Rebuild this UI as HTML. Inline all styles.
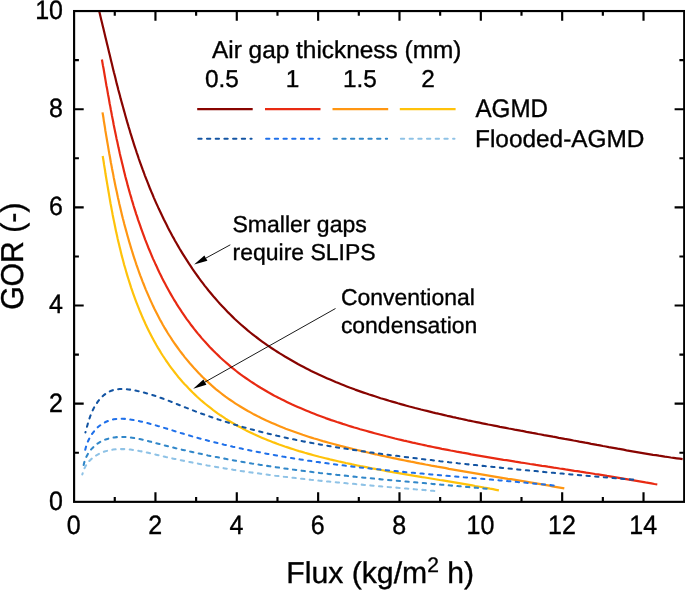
<!DOCTYPE html>
<html><head><meta charset="utf-8"><title>GOR vs Flux</title>
<style>
html,body{margin:0;padding:0;background:#fff;}
body{width:685px;height:590px;overflow:hidden;}
svg{display:block;will-change:transform;}
text{font-family:"Liberation Sans",sans-serif;fill:#000;text-rendering:geometricPrecision;stroke:#000;stroke-width:0.35px;}
.tk{font-size:25px;}
.ax{font-size:30.2px;}
.lg{font-size:24.4px;}
.an{font-size:23px;}
.c{fill:none;stroke-width:2.2;stroke-linecap:butt;stroke-linejoin:round;}
.d{fill:none;stroke-width:2.05;stroke-dasharray:3.3 5.4;stroke-linecap:round;}
</style></head><body>
<svg width="685" height="590" viewBox="0 0 685 590">
<rect x="0" y="0" width="685" height="590" fill="#fff"/>

<clipPath id="cp"><rect x="74.1" y="11.05" width="610.1" height="490.8"/></clipPath>
<g clip-path="url(#cp)">
<path class="c" stroke="#ffc20a" d="M102.7,156.0 L103.2,159.0 L103.7,162.0 L104.1,164.9 L104.6,167.9 L105.1,170.8 L105.5,173.8 L106.0,176.7 L106.5,179.7 L107.0,182.6 L107.5,185.6 L108.0,188.5 L108.5,191.5 L109.0,194.4 L109.5,197.4 L110.0,200.3 L110.5,203.3 L111.1,206.2 L111.6,209.1 L112.2,212.1 L112.7,215.0 L113.3,218.0 L113.9,220.9 L114.5,223.8 L115.1,226.8 L115.7,229.7 L116.3,232.6 L117.0,235.5 L117.6,238.4 L118.3,241.4 L119.0,244.3 L119.7,247.2 L120.4,250.1 L121.1,253.0 L121.8,255.9 L122.6,258.8 L123.4,261.7 L124.1,264.6 L125.0,267.5 L125.8,270.3 L126.6,273.2 L127.5,276.1 L128.4,279.0 L129.3,281.8 L130.2,284.7 L131.1,287.6 L132.1,290.4 L133.1,293.3 L134.1,296.1 L135.1,298.9 L136.2,301.8 L137.3,304.6 L138.4,307.4 L139.5,310.2 L140.7,313.0 L141.8,315.7 L143.0,318.5 L144.3,321.2 L145.5,324.0 L146.8,326.7 L148.1,329.4 L149.4,332.1 L150.8,334.8 L152.2,337.4 L153.6,340.1 L155.1,342.7 L156.5,345.3 L158.0,347.9 L159.6,350.4 L161.1,353.0 L162.7,355.5 L164.4,358.0 L166.0,360.5 L167.7,362.9 L169.4,365.4 L171.2,367.8 L173.0,370.2 L174.8,372.5 L176.7,374.9 L178.5,377.2 L180.5,379.5 L182.4,381.7 L184.4,383.9 L186.5,386.1 L188.5,388.3 L190.6,390.4 L192.7,392.5 L194.9,394.6 L197.1,396.7 L199.3,398.7 L201.5,400.7 L203.8,402.6 L206.1,404.5 L208.5,406.4 L210.8,408.2 L213.2,410.1 L215.6,411.8 L218.0,413.6 L220.5,415.3 L223.0,416.9 L225.5,418.6 L228.0,420.2 L230.5,421.7 L233.1,423.2 L235.6,424.7 L238.2,426.2 L240.9,427.6 L243.5,429.0 L246.1,430.4 L248.8,431.7 L251.5,433.0 L254.2,434.3 L256.9,435.5 L259.6,436.7 L262.4,437.9 L265.1,439.1 L267.9,440.2 L270.7,441.3 L273.5,442.4 L276.3,443.4 L279.1,444.5 L282.0,445.5 L284.8,446.5 L287.6,447.4 L290.5,448.4 L293.4,449.3 L296.2,450.2 L299.1,451.1 L302.0,451.9 L304.9,452.8 L307.8,453.6 L310.7,454.4 L313.6,455.2 L316.5,456.0 L319.4,456.8 L322.4,457.5 L325.3,458.2 L328.2,458.9 L331.1,459.7 L334.0,460.3 L337.0,461.0 L339.9,461.7 L342.8,462.3 L345.8,463.0 L348.7,463.6 L351.6,464.2 L354.5,464.9 L357.5,465.5 L360.4,466.1 L363.3,466.6 L366.3,467.2 L369.2,467.8 L372.1,468.4 L375.1,468.9 L378.0,469.5 L380.9,470.0 L383.9,470.5 L386.8,471.1 L389.7,471.6 L392.7,472.1 L395.6,472.6 L398.6,473.1 L401.5,473.6 L404.4,474.1 L407.4,474.6 L410.3,475.1 L413.3,475.6 L416.2,476.1 L419.2,476.6 L422.1,477.1 L425.0,477.5 L428.0,478.0 L430.9,478.5 L433.9,479.0 L436.8,479.5 L439.8,480.0 L442.7,480.4 L445.7,480.9 L448.6,481.4 L451.6,481.9 L454.5,482.4 L457.5,482.9 L460.5,483.4 L463.4,483.9 L466.4,484.4 L469.3,484.9 L472.3,485.4 L475.2,486.0 L478.2,486.5 L481.2,487.0 L484.1,487.6 L487.1,488.1 L490.0,488.7 L493.0,489.2 L496.0,489.8 L498.9,490.4"/>
<path class="c" stroke="#ff9612" d="M102.5,112.4 L103.0,115.3 L103.5,118.3 L103.9,121.3 L104.4,124.2 L104.9,127.2 L105.3,130.2 L105.8,133.1 L106.3,136.1 L106.8,139.0 L107.3,142.0 L107.8,144.9 L108.3,147.9 L108.8,150.9 L109.3,153.8 L109.9,156.8 L110.4,159.7 L110.9,162.7 L111.5,165.6 L112.0,168.5 L112.6,171.5 L113.2,174.4 L113.7,177.4 L114.3,180.3 L114.9,183.2 L115.5,186.2 L116.1,189.1 L116.8,192.0 L117.4,195.0 L118.0,197.9 L118.7,200.8 L119.3,203.7 L120.0,206.6 L120.7,209.6 L121.4,212.5 L122.1,215.4 L122.8,218.3 L123.6,221.2 L124.3,224.1 L125.1,227.0 L125.9,229.9 L126.7,232.8 L127.5,235.7 L128.3,238.5 L129.1,241.4 L130.0,244.3 L130.8,247.2 L131.7,250.0 L132.6,252.9 L133.5,255.8 L134.4,258.6 L135.4,261.5 L136.3,264.3 L137.3,267.1 L138.3,270.0 L139.3,272.8 L140.3,275.6 L141.4,278.4 L142.5,281.3 L143.6,284.0 L144.7,286.8 L145.8,289.6 L147.0,292.4 L148.2,295.1 L149.4,297.9 L150.6,300.6 L151.9,303.4 L153.1,306.1 L154.4,308.8 L155.8,311.5 L157.1,314.1 L158.5,316.8 L159.9,319.5 L161.4,322.1 L162.8,324.7 L164.3,327.3 L165.9,329.9 L167.4,332.5 L169.0,335.0 L170.7,337.5 L172.3,340.1 L174.0,342.6 L175.7,345.0 L177.5,347.5 L179.2,349.9 L181.0,352.3 L182.9,354.7 L184.7,357.1 L186.6,359.4 L188.6,361.8 L190.5,364.1 L192.5,366.3 L194.5,368.6 L196.6,370.8 L198.6,372.9 L200.7,375.1 L202.8,377.2 L205.0,379.3 L207.2,381.4 L209.4,383.4 L211.6,385.4 L213.8,387.3 L216.1,389.3 L218.4,391.1 L220.8,393.0 L223.1,394.8 L225.5,396.6 L227.9,398.3 L230.3,400.0 L232.8,401.7 L235.2,403.3 L237.7,404.9 L240.3,406.5 L242.8,408.0 L245.3,409.5 L247.9,411.0 L250.5,412.4 L253.1,413.9 L255.8,415.2 L258.4,416.6 L261.1,417.9 L263.7,419.2 L266.4,420.5 L269.2,421.7 L271.9,422.9 L274.6,424.1 L277.4,425.3 L280.2,426.4 L282.9,427.6 L285.7,428.7 L288.5,429.7 L291.4,430.8 L294.2,431.8 L297.0,432.8 L299.9,433.8 L302.7,434.8 L305.6,435.7 L308.5,436.7 L311.3,437.6 L314.2,438.5 L317.1,439.3 L320.0,440.2 L322.9,441.1 L325.8,441.9 L328.8,442.7 L331.7,443.5 L334.6,444.3 L337.5,445.1 L340.5,445.9 L343.4,446.6 L346.3,447.4 L349.3,448.1 L352.2,448.8 L355.1,449.5 L358.1,450.2 L361.0,450.9 L363.9,451.6 L366.8,452.3 L369.8,453.0 L372.7,453.7 L375.6,454.3 L378.6,455.0 L381.5,455.6 L384.4,456.2 L387.4,456.9 L390.3,457.5 L393.2,458.1 L396.2,458.7 L399.1,459.3 L402.0,459.9 L404.9,460.5 L407.9,461.1 L410.8,461.7 L413.7,462.2 L416.7,462.8 L419.6,463.4 L422.5,463.9 L425.5,464.5 L428.4,465.0 L431.3,465.6 L434.3,466.1 L437.2,466.7 L440.1,467.2 L443.1,467.7 L446.0,468.2 L448.9,468.8 L451.9,469.3 L454.8,469.8 L457.8,470.3 L460.7,470.8 L463.6,471.3 L466.6,471.8 L469.5,472.3 L472.5,472.8 L475.4,473.3 L478.4,473.8 L481.3,474.3 L484.3,474.8 L487.2,475.3 L490.1,475.8 L493.1,476.3 L496.0,476.8 L499.0,477.3 L502.0,477.8 L504.9,478.3 L507.9,478.8 L510.8,479.2 L513.8,479.7 L516.7,480.2 L519.7,480.7 L522.7,481.2 L525.6,481.7 L528.6,482.2 L531.5,482.7 L534.5,483.2 L537.5,483.7 L540.5,484.2 L543.4,484.7 L546.4,485.2 L549.4,485.7 L552.4,486.3 L555.3,486.8 L558.3,487.3 L561.3,487.8 L564.3,488.4"/>
<path class="c" stroke="#e82a12" d="M101.9,59.5 L102.4,62.4 L102.9,65.4 L103.5,68.3 L104.0,71.3 L104.5,74.2 L105.0,77.2 L105.5,80.1 L106.0,83.1 L106.5,86.0 L107.1,88.9 L107.6,91.9 L108.1,94.8 L108.7,97.8 L109.2,100.7 L109.7,103.7 L110.3,106.6 L110.8,109.5 L111.4,112.5 L111.9,115.4 L112.5,118.4 L113.1,121.3 L113.6,124.2 L114.2,127.2 L114.8,130.1 L115.4,133.0 L116.0,135.9 L116.6,138.9 L117.3,141.8 L117.9,144.7 L118.5,147.6 L119.2,150.6 L119.8,153.5 L120.5,156.4 L121.2,159.3 L121.9,162.2 L122.6,165.1 L123.3,168.0 L124.0,170.9 L124.7,173.8 L125.4,176.7 L126.2,179.6 L127.0,182.5 L127.7,185.4 L128.5,188.3 L129.3,191.1 L130.1,194.0 L131.0,196.9 L131.8,199.8 L132.7,202.6 L133.5,205.5 L134.4,208.4 L135.3,211.2 L136.2,214.1 L137.2,216.9 L138.1,219.8 L139.1,222.6 L140.1,225.4 L141.1,228.3 L142.1,231.1 L143.1,233.9 L144.2,236.8 L145.2,239.6 L146.3,242.4 L147.4,245.2 L148.5,248.0 L149.7,250.8 L150.9,253.6 L152.0,256.3 L153.2,259.1 L154.5,261.9 L155.7,264.6 L157.0,267.3 L158.2,270.1 L159.5,272.8 L160.9,275.5 L162.2,278.2 L163.6,280.9 L165.0,283.5 L166.4,286.2 L167.8,288.8 L169.3,291.5 L170.8,294.1 L172.3,296.7 L173.8,299.3 L175.4,301.8 L176.9,304.4 L178.5,306.9 L180.2,309.4 L181.8,311.9 L183.5,314.4 L185.2,316.9 L186.9,319.3 L188.7,321.7 L190.5,324.2 L192.3,326.5 L194.1,328.9 L196.0,331.2 L197.9,333.6 L199.8,335.8 L201.7,338.1 L203.7,340.4 L205.7,342.6 L207.7,344.8 L209.7,347.0 L211.8,349.1 L213.9,351.2 L216.0,353.3 L218.2,355.4 L220.3,357.5 L222.5,359.5 L224.8,361.5 L227.0,363.4 L229.3,365.4 L231.5,367.3 L233.9,369.1 L236.2,371.0 L238.5,372.8 L240.9,374.6 L243.3,376.3 L245.7,378.0 L248.1,379.7 L250.6,381.4 L253.1,383.0 L255.6,384.6 L258.1,386.2 L260.6,387.8 L263.2,389.3 L265.7,390.8 L268.3,392.3 L270.9,393.7 L273.5,395.2 L276.1,396.6 L278.8,397.9 L281.4,399.3 L284.1,400.6 L286.8,401.9 L289.5,403.2 L292.2,404.5 L294.9,405.7 L297.7,406.9 L300.4,408.1 L303.2,409.3 L306.0,410.5 L308.7,411.6 L311.5,412.7 L314.3,413.8 L317.1,414.9 L320.0,416.0 L322.8,417.0 L325.6,418.1 L328.5,419.1 L331.3,420.1 L334.2,421.0 L337.0,422.0 L339.9,422.9 L342.8,423.9 L345.7,424.8 L348.5,425.7 L351.4,426.6 L354.3,427.5 L357.2,428.3 L360.1,429.2 L363.0,430.0 L365.9,430.8 L368.8,431.6 L371.7,432.4 L374.6,433.2 L377.6,434.0 L380.5,434.8 L383.4,435.5 L386.3,436.3 L389.2,437.0 L392.1,437.7 L395.0,438.5 L397.9,439.2 L400.9,439.9 L403.8,440.6 L406.7,441.2 L409.6,441.9 L412.5,442.6 L415.5,443.2 L418.4,443.9 L421.3,444.5 L424.2,445.1 L427.2,445.8 L430.1,446.4 L433.0,447.0 L435.9,447.6 L438.9,448.2 L441.8,448.8 L444.7,449.3 L447.7,449.9 L450.6,450.5 L453.5,451.0 L456.5,451.6 L459.4,452.1 L462.3,452.7 L465.3,453.2 L468.2,453.7 L471.2,454.3 L474.1,454.8 L477.0,455.3 L480.0,455.8 L482.9,456.3 L485.9,456.8 L488.8,457.3 L491.7,457.8 L494.7,458.3 L497.6,458.8 L500.6,459.3 L503.5,459.8 L506.5,460.2 L509.4,460.7 L512.4,461.2 L515.3,461.7 L518.3,462.1 L521.2,462.6 L524.2,463.0 L527.1,463.5 L530.1,464.0 L533.0,464.4 L536.0,464.9 L538.9,465.3 L541.9,465.8 L544.8,466.2 L547.8,466.7 L550.7,467.1 L553.7,467.6 L556.7,468.0 L559.6,468.5 L562.6,468.9 L565.5,469.4 L568.5,469.8 L571.4,470.3 L574.4,470.8 L577.4,471.2 L580.3,471.7 L583.3,472.1 L586.2,472.6 L589.2,473.0 L592.2,473.5 L595.1,474.0 L598.1,474.4 L601.0,474.9 L604.0,475.4 L607.0,475.9 L609.9,476.3 L612.9,476.8 L615.8,477.3 L618.8,477.8 L621.8,478.3 L624.7,478.8 L627.7,479.3 L630.7,479.8 L633.6,480.3 L636.6,480.8 L639.5,481.3 L642.5,481.8 L645.5,482.4 L648.4,482.9 L651.4,483.4 L654.4,484.0 L657.3,484.5"/>
<path class="c" stroke="#880400" d="M99.2,11.1 L99.9,14.0 L100.6,16.9 L101.3,19.9 L102.0,22.8 L102.7,25.7 L103.4,28.6 L104.1,31.5 L104.8,34.4 L105.5,37.4 L106.2,40.3 L106.9,43.2 L107.6,46.1 L108.3,49.0 L109.0,51.9 L109.7,54.8 L110.4,57.7 L111.1,60.7 L111.8,63.6 L112.5,66.5 L113.2,69.4 L113.9,72.3 L114.7,75.2 L115.4,78.1 L116.1,81.0 L116.8,83.9 L117.6,86.8 L118.3,89.7 L119.1,92.6 L119.9,95.5 L120.6,98.4 L121.4,101.3 L122.2,104.1 L123.0,107.0 L123.8,109.9 L124.6,112.8 L125.4,115.7 L126.2,118.5 L127.0,121.4 L127.9,124.3 L128.7,127.1 L129.6,130.0 L130.4,132.9 L131.3,135.7 L132.2,138.6 L133.1,141.4 L134.0,144.3 L134.9,147.1 L135.9,150.0 L136.8,152.8 L137.8,155.6 L138.7,158.5 L139.7,161.3 L140.7,164.1 L141.7,166.9 L142.7,169.7 L143.8,172.5 L144.8,175.3 L145.9,178.1 L147.0,180.9 L148.1,183.7 L149.2,186.5 L150.3,189.3 L151.5,192.1 L152.7,194.8 L153.8,197.6 L155.0,200.4 L156.2,203.1 L157.5,205.9 L158.7,208.6 L160.0,211.3 L161.3,214.0 L162.6,216.7 L163.9,219.5 L165.2,222.1 L166.6,224.8 L167.9,227.5 L169.3,230.2 L170.7,232.8 L172.1,235.5 L173.6,238.1 L175.0,240.7 L176.5,243.3 L178.0,245.9 L179.5,248.5 L181.1,251.1 L182.6,253.6 L184.2,256.2 L185.8,258.7 L187.4,261.2 L189.0,263.7 L190.7,266.2 L192.3,268.7 L194.0,271.1 L195.8,273.6 L197.5,276.0 L199.2,278.4 L201.0,280.8 L202.8,283.2 L204.6,285.6 L206.5,287.9 L208.3,290.2 L210.2,292.5 L212.1,294.8 L214.0,297.1 L216.0,299.3 L218.0,301.6 L219.9,303.8 L222.0,306.0 L224.0,308.1 L226.1,310.3 L228.1,312.4 L230.3,314.5 L232.4,316.6 L234.5,318.7 L236.7,320.7 L238.9,322.7 L241.1,324.7 L243.4,326.7 L245.7,328.6 L248.0,330.6 L250.3,332.5 L252.6,334.3 L255.0,336.2 L257.4,338.0 L259.8,339.8 L262.2,341.6 L264.7,343.3 L267.2,345.1 L269.7,346.8 L272.2,348.5 L274.7,350.1 L277.2,351.7 L279.8,353.4 L282.3,354.9 L284.9,356.5 L287.5,358.0 L290.1,359.5 L292.7,361.0 L295.3,362.5 L297.9,364.0 L300.6,365.4 L303.2,366.8 L305.9,368.2 L308.5,369.5 L311.2,370.9 L313.9,372.2 L316.6,373.5 L319.2,374.7 L322.0,376.0 L324.7,377.2 L327.4,378.4 L330.1,379.6 L332.9,380.8 L335.6,382.0 L338.4,383.1 L341.2,384.2 L343.9,385.3 L346.7,386.4 L349.5,387.5 L352.3,388.5 L355.1,389.6 L357.9,390.6 L360.7,391.6 L363.6,392.6 L366.4,393.5 L369.2,394.5 L372.1,395.4 L374.9,396.3 L377.8,397.3 L380.6,398.2 L383.5,399.0 L386.4,399.9 L389.2,400.8 L392.1,401.6 L395.0,402.4 L397.9,403.3 L400.7,404.1 L403.6,404.9 L406.5,405.7 L409.4,406.5 L412.3,407.2 L415.2,408.0 L418.1,408.7 L421.0,409.5 L423.9,410.2 L426.8,410.9 L429.7,411.6 L432.6,412.4 L435.5,413.1 L438.4,413.7 L441.4,414.4 L444.3,415.1 L447.2,415.8 L450.1,416.4 L453.0,417.1 L455.9,417.7 L458.9,418.4 L461.8,419.0 L464.7,419.6 L467.6,420.3 L470.6,420.9 L473.5,421.5 L476.4,422.1 L479.4,422.7 L482.3,423.3 L485.2,423.9 L488.2,424.5 L491.1,425.0 L494.0,425.6 L497.0,426.2 L499.9,426.8 L502.8,427.3 L505.8,427.9 L508.7,428.5 L511.7,429.0 L514.6,429.6 L517.5,430.1 L520.5,430.7 L523.4,431.2 L526.4,431.8 L529.3,432.3 L532.3,432.9 L535.2,433.4 L538.1,434.0 L541.1,434.5 L544.0,435.1 L547.0,435.6 L549.9,436.1 L552.9,436.7 L555.8,437.2 L558.7,437.8 L561.7,438.3 L564.6,438.9 L567.6,439.4 L570.5,439.9 L573.5,440.5 L576.4,441.0 L579.3,441.6 L582.3,442.1 L585.2,442.7 L588.2,443.2 L591.1,443.8 L594.1,444.3 L597.0,444.9 L599.9,445.4 L602.9,446.0 L605.8,446.5 L608.8,447.1 L611.7,447.6 L614.7,448.1 L617.6,448.7 L620.6,449.2 L623.5,449.7 L626.5,450.3 L629.4,450.8 L632.3,451.3 L635.3,451.8 L638.2,452.3 L641.2,452.8 L644.1,453.3 L647.1,453.8 L650.1,454.3 L653.0,454.8 L656.0,455.2 L658.9,455.7 L661.9,456.1 L664.8,456.6 L667.8,457.0 L670.8,457.5 L673.7,457.9 L676.7,458.3 L679.7,458.7 L682.6,459.1"/>
<path class="d" stroke="#8ec2e6" stroke-dashoffset="2.0" d="M82.3,474.5 L83.2,471.4 L84.3,468.5 L85.8,465.7 L87.5,463.2 L89.4,460.9 L91.6,458.8 L93.9,456.9 L96.4,455.3 L99.0,453.9 L101.7,452.6 L104.5,451.6 L107.3,450.8 L110.2,450.1 L113.1,449.6 L116.0,449.3 L118.9,449.1 L121.8,449.1 L124.7,449.1 L127.6,449.3 L130.6,449.6 L133.5,450.0 L136.4,450.4 L139.4,451.0 L142.3,451.5 L145.3,452.2 L148.2,452.8 L151.2,453.5 L154.1,454.2 L157.1,454.9 L160.0,455.6 L163.0,456.3 L165.9,457.0 L168.9,457.6 L171.8,458.3 L174.8,458.9 L177.7,459.6 L180.7,460.2 L183.6,460.8 L186.6,461.4 L189.5,462.0 L192.5,462.6 L195.5,463.2 L198.4,463.7 L201.4,464.3 L204.3,464.8 L207.3,465.4 L210.2,465.9 L213.2,466.4 L216.1,466.9 L219.1,467.4 L222.1,467.9 L225.0,468.4 L228.0,468.9 L230.9,469.4 L233.9,469.9 L236.8,470.3 L239.8,470.8 L242.8,471.2 L245.7,471.6 L248.7,472.1 L251.6,472.5 L254.6,472.9 L257.6,473.3 L260.5,473.7 L263.5,474.1 L266.4,474.5 L269.4,474.9 L272.4,475.3 L275.3,475.7 L278.3,476.0 L281.2,476.4 L284.2,476.8 L287.2,477.1 L290.1,477.5 L293.1,477.8 L296.1,478.1 L299.0,478.5 L302.0,478.8 L305.0,479.1 L307.9,479.4 L310.9,479.8 L313.9,480.1 L316.8,480.4 L319.8,480.7 L322.8,481.0 L325.8,481.3 L328.7,481.6 L331.7,481.9 L334.7,482.2 L337.6,482.4 L340.6,482.7 L343.6,483.0 L346.6,483.3 L349.5,483.6 L352.5,483.8 L355.5,484.1 L358.5,484.4 L361.5,484.6 L364.4,484.9 L367.4,485.2 L370.4,485.4 L373.4,485.7 L376.4,485.9 L379.3,486.2 L382.3,486.5 L385.3,486.7 L388.3,487.0 L391.3,487.2 L394.3,487.5 L397.3,487.7 L400.2,488.0 L403.2,488.3 L406.2,488.5 L409.2,488.8 L412.2,489.0 L415.2,489.3 L418.2,489.5 L421.2,489.8 L424.2,490.0 L427.2,490.3 L430.2,490.6 L433.2,490.8 L436.2,491.1"/>
<path class="d" stroke="#3187c9" stroke-dashoffset="7.85" d="M83.5,465.9 L84.2,462.6 L85.2,459.6 L86.4,456.7 L87.9,453.9 L89.6,451.4 L91.4,449.1 L93.5,447.0 L95.7,445.0 L98.0,443.3 L100.5,441.8 L103.0,440.5 L105.7,439.4 L108.5,438.6 L111.3,437.9 L114.2,437.4 L117.1,437.1 L120.1,437.0 L123.1,437.0 L126.0,437.1 L129.0,437.4 L132.0,437.7 L134.9,438.2 L137.9,438.7 L140.8,439.3 L143.7,440.0 L146.6,440.7 L149.5,441.4 L152.4,442.2 L155.3,443.0 L158.2,443.7 L161.1,444.5 L164.0,445.3 L166.9,446.0 L169.9,446.7 L172.8,447.5 L175.7,448.2 L178.6,448.9 L181.5,449.6 L184.4,450.2 L187.3,450.9 L190.2,451.6 L193.2,452.2 L196.1,452.9 L199.0,453.5 L201.9,454.1 L204.8,454.7 L207.8,455.4 L210.7,456.0 L213.6,456.5 L216.5,457.1 L219.5,457.7 L222.4,458.3 L225.3,458.8 L228.3,459.4 L231.2,459.9 L234.1,460.4 L237.1,461.0 L240.0,461.5 L243.0,462.0 L245.9,462.5 L248.8,463.0 L251.8,463.5 L254.7,463.9 L257.7,464.4 L260.6,464.9 L263.6,465.3 L266.5,465.8 L269.4,466.2 L272.4,466.7 L275.3,467.1 L278.3,467.5 L281.2,467.9 L284.2,468.4 L287.2,468.8 L290.1,469.2 L293.1,469.6 L296.0,469.9 L299.0,470.3 L301.9,470.7 L304.9,471.1 L307.8,471.5 L310.8,471.8 L313.8,472.2 L316.7,472.5 L319.7,472.9 L322.6,473.2 L325.6,473.6 L328.6,473.9 L331.5,474.2 L334.5,474.6 L337.5,474.9 L340.4,475.2 L343.4,475.5 L346.4,475.8 L349.3,476.2 L352.3,476.5 L355.3,476.8 L358.2,477.1 L361.2,477.4 L364.2,477.7 L367.1,478.0 L370.1,478.2 L373.1,478.5 L376.0,478.8 L379.0,479.1 L382.0,479.4 L385.0,479.7 L387.9,479.9 L390.9,480.2 L393.9,480.5 L396.8,480.7 L399.8,481.0 L402.8,481.3 L405.8,481.5 L408.7,481.8 L411.7,482.1 L414.7,482.3 L417.7,482.6 L420.6,482.9 L423.6,483.1 L426.6,483.4 L429.5,483.6 L432.5,483.9 L435.5,484.2 L438.5,484.4 L441.4,484.7 L444.4,484.9 L447.4,485.2 L450.4,485.5 L453.3,485.7 L456.3,486.0 L459.3,486.2 L462.3,486.5 L465.2,486.8 L468.2,487.0 L471.2,487.3 L474.1,487.6 L477.1,487.8 L480.1,488.1 L483.1,488.4 L486.0,488.7 L489.0,488.9"/>
<path class="d" stroke="#1f70ea" stroke-dashoffset="8.0" d="M85.1,450.5 L85.8,447.5 L86.7,444.5 L87.9,441.5 L89.2,438.7 L90.7,436.0 L92.3,433.5 L94.2,431.1 L96.2,428.8 L98.3,426.8 L100.6,425.0 L103.1,423.4 L105.6,422.0 L108.2,420.9 L110.9,420.0 L113.7,419.3 L116.6,418.9 L119.5,418.7 L122.4,418.8 L125.4,418.9 L128.4,419.3 L131.4,419.7 L134.4,420.2 L137.3,420.8 L140.3,421.4 L143.3,422.1 L146.2,422.8 L149.1,423.5 L152.0,424.3 L154.9,425.1 L157.8,426.0 L160.7,426.8 L163.6,427.7 L166.4,428.6 L169.3,429.5 L172.2,430.3 L175.0,431.2 L177.9,432.1 L180.8,433.0 L183.6,433.8 L186.5,434.7 L189.4,435.5 L192.3,436.4 L195.1,437.2 L198.0,438.0 L200.9,438.8 L203.8,439.5 L206.7,440.3 L209.6,441.1 L212.5,441.8 L215.4,442.5 L218.3,443.2 L221.2,444.0 L224.1,444.7 L227.0,445.3 L229.9,446.0 L232.8,446.7 L235.7,447.3 L238.6,448.0 L241.5,448.6 L244.5,449.3 L247.4,449.9 L250.3,450.5 L253.2,451.1 L256.2,451.7 L259.1,452.2 L262.0,452.8 L264.9,453.4 L267.9,453.9 L270.8,454.5 L273.7,455.0 L276.7,455.5 L279.6,456.0 L282.6,456.6 L285.5,457.1 L288.5,457.5 L291.4,458.0 L294.4,458.5 L297.3,459.0 L300.3,459.4 L303.2,459.9 L306.2,460.4 L309.1,460.8 L312.1,461.2 L315.0,461.7 L318.0,462.1 L320.9,462.5 L323.9,462.9 L326.9,463.3 L329.8,463.7 L332.8,464.1 L335.8,464.5 L338.7,464.9 L341.7,465.2 L344.7,465.6 L347.6,466.0 L350.6,466.3 L353.6,466.7 L356.6,467.0 L359.5,467.4 L362.5,467.7 L365.5,468.0 L368.5,468.3 L371.4,468.7 L374.4,469.0 L377.4,469.3 L380.4,469.6 L383.3,469.9 L386.3,470.2 L389.3,470.5 L392.3,470.8 L395.3,471.1 L398.2,471.4 L401.2,471.7 L404.2,472.0 L407.2,472.3 L410.2,472.6 L413.2,472.8 L416.1,473.1 L419.1,473.4 L422.1,473.6 L425.1,473.9 L428.1,474.2 L431.1,474.4 L434.0,474.7 L437.0,475.0 L440.0,475.2 L443.0,475.5 L446.0,475.8 L449.0,476.0 L451.9,476.3 L454.9,476.5 L457.9,476.8 L460.9,477.0 L463.9,477.3 L466.9,477.5 L469.8,477.8 L472.8,478.1 L475.8,478.3 L478.8,478.6 L481.8,478.8 L484.7,479.1 L487.7,479.3 L490.7,479.6 L493.7,479.9 L496.6,480.1 L499.6,480.4 L502.6,480.6 L505.6,480.9 L508.5,481.2 L511.5,481.4 L514.5,481.7 L517.5,482.0 L520.4,482.3 L523.4,482.5 L526.4,482.8 L529.3,483.1 L532.3,483.4 L535.3,483.7 L538.2,484.0 L541.2,484.2 L544.2,484.5 L547.1,484.8 L550.1,485.1 L553.1,485.5 L556.0,485.8"/>
<path class="d" stroke="#1354a2" stroke-dashoffset="2.85" d="M85.4,432.4 L86.1,429.7 L86.9,427.0 L87.7,424.2 L88.5,421.3 L89.5,418.4 L90.5,415.5 L91.7,412.6 L93.0,409.7 L94.4,406.9 L96.0,404.3 L97.8,401.7 L99.7,399.3 L101.7,397.1 L103.9,395.1 L106.2,393.3 L108.7,391.8 L111.3,390.7 L113.9,389.8 L116.7,389.3 L119.6,389.0 L122.5,388.9 L125.5,389.1 L128.5,389.4 L131.5,389.8 L134.5,390.3 L137.5,391.0 L140.4,391.6 L143.4,392.4 L146.3,393.2 L149.2,394.0 L152.1,394.9 L154.9,395.8 L157.8,396.8 L160.6,397.8 L163.4,398.8 L166.2,399.9 L169.0,400.9 L171.8,402.0 L174.6,403.1 L177.4,404.3 L180.2,405.4 L183.0,406.5 L185.8,407.6 L188.6,408.7 L191.4,409.8 L194.2,410.9 L197.0,412.0 L199.8,413.0 L202.6,414.0 L205.4,415.0 L208.2,416.0 L211.1,417.0 L213.9,418.0 L216.7,418.9 L219.6,419.9 L222.4,420.8 L225.2,421.7 L228.1,422.6 L231.0,423.5 L233.8,424.4 L236.7,425.2 L239.6,426.0 L242.4,426.9 L245.3,427.7 L248.2,428.5 L251.1,429.3 L254.0,430.0 L256.8,430.8 L259.7,431.5 L262.6,432.3 L265.5,433.0 L268.4,433.7 L271.4,434.4 L274.3,435.1 L277.2,435.8 L280.1,436.4 L283.0,437.1 L285.9,437.7 L288.9,438.4 L291.8,439.0 L294.7,439.6 L297.7,440.2 L300.6,440.8 L303.5,441.4 L306.5,441.9 L309.4,442.5 L312.4,443.1 L315.3,443.6 L318.3,444.1 L321.2,444.7 L324.2,445.2 L327.1,445.7 L330.1,446.2 L333.0,446.7 L336.0,447.2 L339.0,447.7 L341.9,448.2 L344.9,448.6 L347.8,449.1 L350.8,449.6 L353.8,450.0 L356.8,450.4 L359.7,450.9 L362.7,451.3 L365.7,451.7 L368.6,452.2 L371.6,452.6 L374.6,453.0 L377.6,453.4 L380.5,453.8 L383.5,454.2 L386.5,454.6 L389.5,455.0 L392.5,455.4 L395.4,455.7 L398.4,456.1 L401.4,456.5 L404.4,456.9 L407.3,457.2 L410.3,457.6 L413.3,458.0 L416.3,458.3 L419.3,458.7 L422.2,459.1 L425.2,459.4 L428.2,459.8 L431.2,460.1 L434.1,460.5 L437.1,460.8 L440.1,461.2 L443.1,461.5 L446.0,461.8 L449.0,462.2 L452.0,462.5 L455.0,462.8 L457.9,463.2 L460.9,463.5 L463.9,463.8 L466.9,464.2 L469.8,464.5 L472.8,464.8 L475.8,465.1 L478.8,465.4 L481.7,465.8 L484.7,466.1 L487.7,466.4 L490.7,466.7 L493.6,467.0 L496.6,467.3 L499.6,467.6 L502.6,467.9 L505.5,468.2 L508.5,468.5 L511.5,468.8 L514.5,469.1 L517.4,469.4 L520.4,469.7 L523.4,470.0 L526.4,470.3 L529.3,470.6 L532.3,470.9 L535.3,471.1 L538.3,471.4 L541.3,471.7 L544.2,472.0 L547.2,472.3 L550.2,472.5 L553.2,472.8 L556.2,473.1 L559.1,473.4 L562.1,473.6 L565.1,473.9 L568.1,474.2 L571.1,474.4 L574.1,474.7 L577.0,475.0 L580.0,475.2 L583.0,475.5 L586.0,475.7 L589.0,476.0 L592.0,476.3 L595.0,476.5 L597.9,476.8 L600.9,477.0 L603.9,477.3 L606.9,477.5 L609.9,477.8 L612.9,478.0 L615.9,478.3 L618.9,478.5 L621.9,478.7 L624.9,479.0 L627.9,479.2 L630.9,479.5 L633.9,479.7 L636.9,479.9"/>
</g>
<g stroke="#000" stroke-width="2.15" fill="none" stroke-linecap="butt">
<rect x="74.1" y="11.05" width="610.1" height="490.8"/>
<path d="M114.77,501.85v-4.8 M114.77,11.05v4.8 M155.45,501.85v-9.6 M155.45,11.05v9.6 M196.12,501.85v-4.8 M196.12,11.05v4.8 M236.79,501.85v-9.6 M236.79,11.05v9.6 M277.47,501.85v-4.8 M277.47,11.05v4.8 M318.14,501.85v-9.6 M318.14,11.05v9.6 M358.81,501.85v-4.8 M358.81,11.05v4.8 M399.48,501.85v-9.6 M399.48,11.05v9.6 M440.16,501.85v-4.8 M440.16,11.05v4.8 M480.83,501.85v-9.6 M480.83,11.05v9.6 M521.50,501.85v-4.8 M521.50,11.05v4.8 M562.18,501.85v-9.6 M562.18,11.05v9.6 M602.85,501.85v-4.8 M602.85,11.05v4.8 M643.52,501.85v-9.6 M643.52,11.05v9.6 M74.1,452.77h4.8 M684.2,452.77h-4.8 M74.1,403.69h9.6 M684.2,403.69h-9.6 M74.1,354.61h4.8 M684.2,354.61h-4.8 M74.1,305.53h9.6 M684.2,305.53h-9.6 M74.1,256.45h4.8 M684.2,256.45h-4.8 M74.1,207.37h9.6 M684.2,207.37h-9.6 M74.1,158.29h4.8 M684.2,158.29h-4.8 M74.1,109.21h9.6 M684.2,109.21h-9.6 M74.1,60.13h4.8 M684.2,60.13h-4.8"/>
</g>
<text class="tk" transform="translate(73.8,533.5) scale(1,1.06)" text-anchor="middle">0</text>
<text class="tk" transform="translate(155.1,533.5) scale(1,1.06)" text-anchor="middle">2</text>
<text class="tk" transform="translate(236.5,533.5) scale(1,1.06)" text-anchor="middle">4</text>
<text class="tk" transform="translate(317.8,533.5) scale(1,1.06)" text-anchor="middle">6</text>
<text class="tk" transform="translate(399.2,533.5) scale(1,1.06)" text-anchor="middle">8</text>
<text class="tk" transform="translate(480.5,533.5) scale(1,1.06)" text-anchor="middle">10</text>
<text class="tk" transform="translate(561.9,533.5) scale(1,1.06)" text-anchor="middle">12</text>
<text class="tk" transform="translate(643.2,533.5) scale(1,1.06)" text-anchor="middle">14</text>
<text class="tk" transform="translate(63.0,509.8) scale(1,1.06)" text-anchor="end">0</text>
<text class="tk" transform="translate(63.0,411.6) scale(1,1.06)" text-anchor="end">2</text>
<text class="tk" transform="translate(63.0,313.4) scale(1,1.06)" text-anchor="end">4</text>
<text class="tk" transform="translate(63.0,215.3) scale(1,1.06)" text-anchor="end">6</text>
<text class="tk" transform="translate(63.0,117.1) scale(1,1.06)" text-anchor="end">8</text>
<text class="tk" transform="translate(63.0,19.0) scale(1,1.06)" text-anchor="end">10</text>
<text class="ax" x="380.2" y="582.5" text-anchor="middle">Flux (kg/m<tspan font-size="21" dy="-10.6">2</tspan><tspan dy="10.6"> h)</tspan></text>
<text class="ax" transform="translate(23.4,256.2) rotate(-90) scale(1,1.045)" text-anchor="middle">GOR (-)</text>
<text class="lg" x="212" y="57.8">Air gap thickness (mm)</text>
<text class="lg" x="222" y="86.8" text-anchor="middle">0.5</text>
<text class="lg" x="292.5" y="86.8" text-anchor="middle">1</text>
<text class="lg" x="360" y="86.8" text-anchor="middle">1.5</text>
<text class="lg" x="428" y="86.8" text-anchor="middle">2</text>
<path class="c" stroke="#880400" d="M197.2,109.15H252.7"/>
<path class="c" stroke="#e82a12" d="M265,109.15H320.5"/>
<path class="c" stroke="#ff9612" d="M332.5,109.15H388.2"/>
<path class="c" stroke="#ffc20a" d="M399.8,109.15H455.6"/>
<path class="d" stroke="#1354a2" d="M198.29999999999998,138.7H251.6"/>
<path class="d" stroke="#1f70ea" d="M266.1,138.7H319.4"/>
<path class="d" stroke="#3187c9" d="M333.6,138.7H387.09999999999997"/>
<path class="d" stroke="#8ec2e6" d="M400.90000000000003,138.7H454.5"/>
<text class="lg" transform="translate(475.5,116.8) scale(0.99,1.045)">AGMD</text>
<text class="lg" x="475" y="146.6">Flooded-AGMD</text>
<text class="an" x="232.5" y="232.1">Smaller gaps</text>
<text class="an" x="232.5" y="260.4">require SLIPS</text>
<text class="an" style="font-size:22.95px" x="340.9" y="305.4">Conventional</text>
<text class="an" style="font-size:22.95px" x="340.9" y="332.6">condensation</text>
<path d="M230.3,244.8L205.9,258.1" stroke="#000" stroke-width="0.9" fill="none"/><path d="M194.1,264.5L204.4,255.4L207.4,260.8Z" fill="#000"/>
<path d="M335.5,308.5L204.9,382.1" stroke="#000" stroke-width="0.9" fill="none"/><path d="M193.2,388.7L203.4,379.4L206.4,384.8Z" fill="#000"/>
</svg></body></html>
